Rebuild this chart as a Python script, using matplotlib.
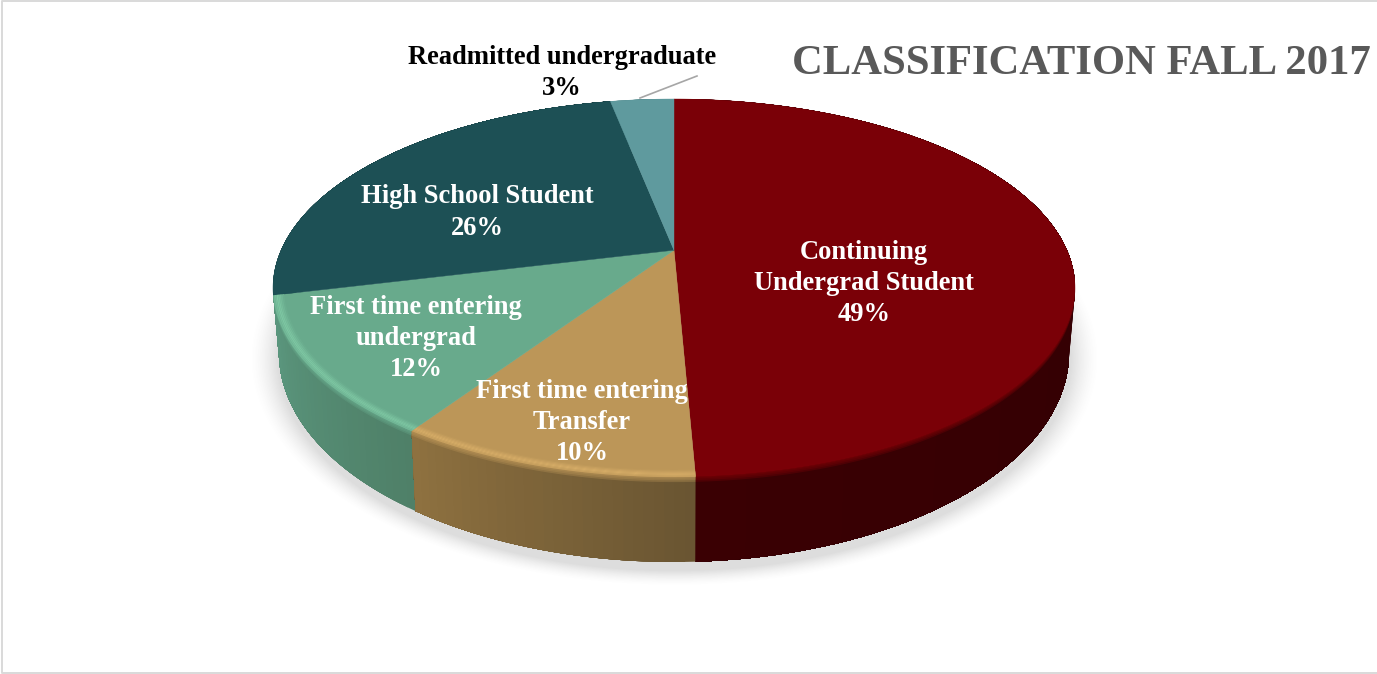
import numpy as np
import matplotlib
matplotlib.use("Agg")
import matplotlib.pyplot as plt
from matplotlib.collections import PolyCollection
from matplotlib.colors import to_rgb

# ---- data -----------------------------------------------------------------
categories = ["Continuing\nUndergrad Student", "First time entering\nTransfer",
              "First time entering\nundergrad", "High School Student",
              "Readmitted undergraduate"]
shares = [49.3, 10.1, 11.8, 25.7, 3.1]
top_colors = ["#7a0007", "#bc9658", "#68aa8c", "#1d5055", "#5f9a9e"]
side_start = ["#2c0003", "#6a5532", "#4f8068", "#163d41", "#487679"]
side_end = ["#3a0003", "#8f7240", "#5c9980", "#163d41", "#487679"]
rim_colors = ["#7a0007", "#d8ae68", "#7fc8a4", "#1d5055", "#5f9a9e"]
label_centers = [(864, 283.5), (582, 422.5), (416, 338.5), (477, 212.5), (562, 73)]
label_colors = ["white", "white", "white", "white", "black"]
title = "CLASSIFICATION FALL 2017"

# ---- projection -----------------------------------------------------------
W, H = 1377, 674
CX = 674
TOP = dict(cy=288, rx=401, ry=189)
BOT = dict(cy=353, rx=395, ry=209)
A = -0.2  # perspective shift of the pie centre


def project(theta, r=1.0, e=TOP):
    u, v = r * np.sin(theta), -r * np.cos(theta)
    d = 1 + A * v
    return CX + e["rx"] * u * np.sqrt(1 - A * A) / d, e["cy"] + e["ry"] * (v + A) / d


def mix(c1, c2, t):
    a, b = np.array(to_rgb(c1)), np.array(to_rgb(c2))
    return tuple(a + (b - a) * t)


fig = plt.figure(figsize=(W / 100, H / 100), dpi=100, facecolor="white")
ax = fig.add_axes([0, 0, 1, 1])
ax.set_axis_off()

# soft shadow under the pie
yy, xx = np.mgrid[0:H, 0:W]
dist = np.sqrt(((xx - CX) / 409) ** 2 + ((yy - 358) / 219) ** 2)
alpha = np.clip((1.04 - dist) / 0.07, 0, 1) ** 1.6 * 0.2
rgba = np.zeros((H, W, 4))
rgba[..., :3] = 0.35
rgba[..., 3] = alpha
ax.imshow(rgba, extent=(0, W, H, 0), aspect="auto", interpolation="bilinear", zorder=1)

fr = np.array(shares) / sum(shares)
edges = np.concatenate([[0], np.cumsum(fr)]) * 2 * np.pi

# sides, back slices first; each strip runs to the slice end so no seams show
z = 2.0
for i in [4, 3, 0, 2, 1]:
    n = max(int(fr[i] * 300), 4)
    th = np.linspace(edges[i], edges[i + 1], n + 1)
    polys, cols = [], []
    for k in range(n):
        t2 = th[k:]
        xa, ya = project(t2, e=TOP)
        xb, yb = project(t2, e=BOT)
        polys.append(np.column_stack([np.r_[xa, xb[::-1]], np.r_[ya, yb[::-1]]]))
        cols.append(mix(side_start[i], side_end[i], k / n))
    ax.add_collection(PolyCollection(polys, facecolors=cols, edgecolors="none", linewidths=0, zorder=z))
    z += 0.1

# blurred transition below the top edge
for i in range(5):
    th = np.linspace(edges[i], edges[i + 1], 200)
    x1, y1 = project(th, e=TOP)
    x2, y2 = project(th, e=BOT)
    for s1, w in [(.06, .33), (.04, .33), (.02, .33)]:
        xb, yb = x1 + (x2 - x1) * s1, y1 + (y2 - y1) * s1
        ax.fill(np.r_[x1, xb[::-1]], np.r_[y1, yb[::-1]], color=top_colors[i], alpha=w,
                lw=0, zorder=3)

# top surface
for i in range(5):
    th = np.linspace(edges[i], edges[i + 1], 200)
    x, y = project(th)
    x0, y0 = project(0.0, 0.0)
    ax.fill(np.r_[x0, x], np.r_[y0, y], color=top_colors[i], ec=top_colors[i], lw=0.3, zorder=4)

# bevel highlight around the visible rim
for i in range(5):
    th = np.linspace(edges[i], edges[i + 1], 200)
    mask = np.cos(th) < 0.05
    if not mask.any() or rim_colors[i] == top_colors[i]:
        continue
    th = th[mask]
    rs = np.linspace(0.974, 1.0, 8)
    for k in range(7):
        t = 1 - abs((k + .5) / 7 - 0.6) / 0.6
        xa, ya = project(th, rs[k])
        xb, yb = project(th, rs[k + 1])
        ax.fill(np.r_[xa, xb[::-1]], np.r_[ya, yb[::-1]], color=mix(top_colors[i], rim_colors[i], t),
                lw=0, zorder=5)

# labels
font = dict(family="Liberation Serif", weight="bold", fontsize=19.1, ha="center", va="center",
            linespacing=1.32, zorder=7)
for cat, v, c, col in zip(categories, shares, label_centers, label_colors):
    ax.text(c[0], c[1], f"{cat}\n{round(v)}%", color=col, **font)

# leader line of the small slice
ax.plot([640, 697], [98, 76], color="#a6a6a6", lw=1.2, zorder=6)

ax.text(792, 74, title, family="Liberation Serif", weight="bold", fontsize=30.7, color="#595959",
        ha="left", va="baseline", zorder=7)

# outer frame: left, top and bottom edges
ax.plot([W, 2.3, 2.3, W], [0.8, 0.8, H - 0.7, H - 0.7], color="#d9d9d9", lw=1.4, zorder=8)

ax.set_xlim(0, W)
ax.set_ylim(H, 0)
fig.savefig("out.png", dpi=100, facecolor="white")
